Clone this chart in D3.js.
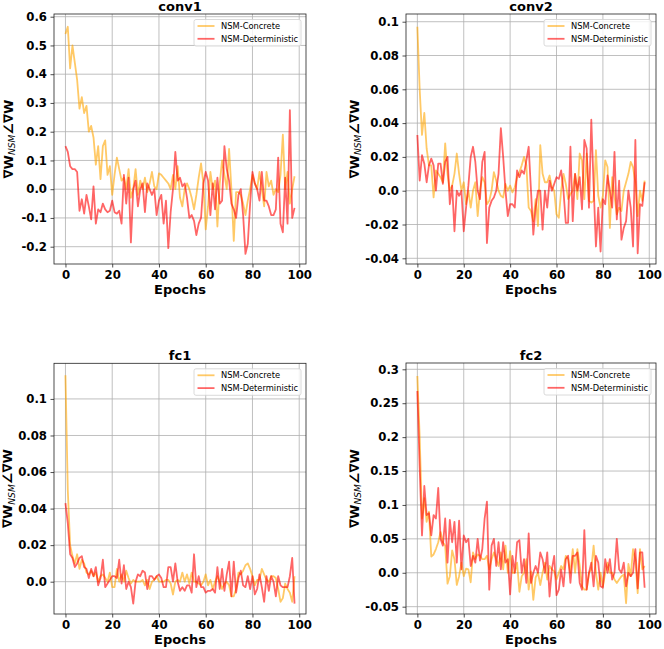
<!DOCTYPE html>
<html><head><meta charset="utf-8">
<script src="https://cdn.jsdelivr.net/npm/d3@7"></script>
<style>body{margin:0;background:#fff}svg{display:block}</style>
</head><body>
<svg id="c" width="664" height="649"></svg>
<script>
const epochs = d3.range(0, 99);
const seriesNames = ["NSM-Concrete", "NSM-Deterministic"];
const panelTitles = ["conv1", "conv2", "fc1", "fc2"];

const conv1Concrete = [0.54,0.565,0.42,0.50,0.44,0.38,0.28,0.32,0.265,0.29,0.20,0.22,0.18,0.085,0.15,0.035,0.15,0.17,0.05,0.08,-0.02,0.05,0.11,0.07,0.03,0.04,0.0,0.07,-0.03,0.0,0.07,-0.02,0.03,0.0,0.04,-0.01,0.02,0.06,0.01,0.0,0.055,0.05,0.04,0.03,0.02,0.0,0.05,0.0,0.08,-0.03,-0.06,0.0,0.02,0.0,-0.03,-0.07,-0.02,0.04,0.09,0.02,-0.14,-0.06,0.06,0.0,0.03,-0.13,0.02,0.10,0.05,0.0,0.14,0.0,-0.18,-0.01,-0.01,-0.02,-0.05,-0.09,-0.04,0.0,0.05,0.02,0.0,0.06,0.0,-0.06,0.06,0.01,0.03,-0.02,0.0,-0.01,0.05,0.19,0.0,0.06,-0.05,0.0,0.045];
const conv1Deterministic = [0.15,0.13,0.08,0.07,0.07,0.06,-0.075,-0.035,-0.085,-0.02,-0.06,-0.105,0.01,-0.12,-0.07,-0.08,-0.05,-0.07,-0.08,-0.075,-0.04,-0.08,-0.085,-0.075,-0.12,0.05,-0.05,0.04,-0.185,0.0,0.03,-0.06,0.0,0.02,-0.08,0.02,0.0,-0.02,0.0,-0.09,-0.04,-0.02,-0.12,-0.04,-0.205,-0.08,0.0,0.13,0.03,0.04,0.01,0.02,-0.03,-0.10,-0.09,-0.11,-0.16,-0.12,-0.10,0.02,0.06,0.03,-0.09,0.02,-0.07,0.04,-0.05,-0.04,0.15,0.07,0.03,-0.05,-0.07,-0.10,-0.02,0.0,-0.09,-0.225,-0.19,-0.05,0.06,0.02,0.0,-0.04,0.06,-0.04,-0.04,-0.06,-0.09,-0.09,-0.07,0.11,-0.12,-0.15,0.04,-0.12,0.275,-0.10,-0.065];

const conv2Concrete = [0.097,0.06,0.033,0.046,0.025,0.015,0.015,-0.004,0.012,0.01,0.008,0.005,0.028,0.01,0.0,0.003,0.01,0.022,0.01,0.0,0.005,-0.008,0.0,-0.01,0.0,0.005,-0.015,0.0,0.008,0.005,-0.008,-0.006,0.0,0.011,0.006,0.0,-0.003,-0.004,0.004,0.0,0.003,-0.001,0.002,0.008,0.011,0.015,0.02,0.015,-0.01,-0.012,-0.018,-0.005,-0.021,0.027,0.01,0.005,0.005,0.009,0.002,0.0,-0.014,-0.016,0.0,0.01,0.004,-0.005,-0.002,0.0,0.01,-0.005,0.022,0.018,-0.005,0.022,-0.006,-0.007,-0.006,0.024,-0.003,-0.01,-0.003,0.018,0.014,-0.022,0.008,-0.003,-0.014,-0.01,-0.012,0.0,0.005,0.01,0.017,0.014,0.005,-0.015,0.0,-0.006,0.006];
const conv2Deterministic = [0.033,0.006,0.021,0.016,0.005,0.015,0.019,0.015,0.0,0.016,0.016,0.004,0.017,0.02,-0.008,0.003,-0.024,0.0,-0.003,0.0,-0.024,-0.01,0.003,0.02,0.026,0.017,0.0,-0.005,0.017,0.023,-0.031,-0.01,-0.006,-0.004,0.0,0.01,0.037,0.02,0.0,-0.015,-0.008,-0.008,-0.01,0.012,0.008,0.012,0.01,0.018,0.026,0.0,-0.026,-0.01,0.0,0.0,-0.023,0.0,-0.01,0.006,0.0,0.004,0.008,0.007,0.012,0.0,-0.019,-0.019,0.026,-0.018,0.01,0.0,0.008,-0.011,0.03,0.025,-0.01,0.042,0.003,-0.033,-0.01,-0.036,-0.005,-0.008,0.009,0.0,-0.01,0.023,-0.017,0.006,-0.029,-0.022,-0.018,0.0,-0.01,-0.033,0.03,-0.037,-0.008,-0.009,0.005];

const fc1Concrete = [0.113,0.05,0.02,0.014,0.01,0.015,0.007,0.012,0.01,0.005,0.004,0.006,0.003,0.005,0.0,0.003,0.004,0.002,0.0,0.005,-0.003,-0.003,0.007,0.0,0.004,0.0,0.006,0.002,-0.001,0.001,0.0,0.0,0.0,0.001,-0.002,0.001,-0.004,0.0,0.001,0.003,0.0,0.0,0.0,0.001,0.001,-0.001,-0.007,0.0,0.001,0.0,0.005,0.0,0.004,-0.001,0.005,0.0,0.0,-0.001,-0.002,0.0,0.004,-0.002,0.001,-0.004,0.0,0.003,0.0,-0.004,-0.001,0.0,-0.002,-0.008,-0.008,-0.004,0.005,0.004,0.006,0.009,0.01,0.007,0.003,-0.002,0.001,0.001,0.007,0.004,0.001,0.0,0.003,0.003,0.002,-0.004,-0.011,-0.009,-0.001,-0.004,-0.006,-0.011,0.003];
const fc1Deterministic = [0.043,0.032,0.015,0.013,0.008,0.01,0.013,0.014,0.008,0.007,0.002,0.007,0.003,0.008,-0.002,0.002,0.012,-0.003,-0.001,0.001,0.003,0.003,0.002,0.012,-0.001,0.009,-0.004,0.0,-0.003,-0.012,0.0,0.004,0.003,0.006,0.005,-0.004,0.003,0.003,0.001,0.003,0.004,0.002,-0.003,-0.003,0.008,0.008,0.0,0.01,0.0,-0.005,-0.003,-0.005,-0.002,-0.002,-0.006,0.015,-0.003,0.003,-0.003,-0.003,-0.006,-0.005,-0.005,-0.004,-0.006,0.008,-0.004,0.007,-0.005,0.004,0.011,-0.008,0.011,-0.006,0.002,0.006,-0.002,-0.003,0.003,-0.004,0.003,-0.007,-0.004,0.004,-0.003,-0.011,0.003,-0.005,0.003,0.0,-0.008,0.003,-0.002,-0.003,-0.003,-0.003,0.003,0.013,-0.012];

const fc2Concrete = [0.29,0.2,0.08,0.11,0.075,0.09,0.024,0.027,0.035,0.045,0.06,0.045,0.04,-0.016,-0.005,0.033,0.02,-0.018,-0.005,0.015,-0.005,0.006,0.005,-0.014,0.03,0.02,0.027,0.025,0.02,0.02,0.025,0.005,0.02,0.03,0.02,0.01,0.03,0.005,0.04,0.0,0.032,0.0,0.0,0.015,-0.028,-0.005,0.0,0.02,-0.025,0.002,-0.04,-0.007,0.0,-0.018,0.0,0.015,-0.01,0.01,0.005,0.002,-0.01,0.0,0.01,0.005,0.025,0.02,0.0,0.035,0.0,0.035,0.01,-0.02,-0.025,-0.025,0.0,0.005,0.04,0.0,-0.025,0.0,-0.02,0.0,0.015,0.0,0.0,-0.01,-0.015,-0.01,-0.005,-0.003,-0.045,0.013,-0.005,0.035,0.02,-0.03,0.035,0.005,0.01];
const fc2Deterministic = [0.268,0.155,0.055,0.128,0.085,0.088,0.055,0.085,0.08,0.125,0.05,0.04,0.08,0.015,0.078,0.045,0.075,0.015,0.077,0.005,0.055,0.045,0.05,0.01,0.025,0.015,0.05,0.018,0.035,0.08,0.105,-0.025,0.04,0.05,0.01,0.045,0.005,0.045,0.015,0.02,-0.032,0.025,0.0,0.045,0.048,0.0,0.02,-0.015,0.058,-0.015,0.0,0.01,0.0,0.03,0.02,0.0,0.03,-0.035,0.005,0.025,-0.033,-0.025,0.005,-0.02,0.02,0.025,-0.015,0.025,0.025,0.03,-0.015,-0.025,0.063,-0.025,0.0,0.015,-0.02,0.025,0.015,-0.02,-0.022,0.02,0.0,0.02,-0.01,0.0,0.05,0.005,0.0,0.015,-0.02,0.0,-0.005,0.0,0.035,-0.023,0.03,0.03,-0.022];

const xTicks = [0, 20, 40, 60, 80, 100];
const conv1Ticks = [-0.2,-0.1,0.0,0.1,0.2,0.3,0.4,0.5,0.6];
const conv1TickLabels = ["-0.2","-0.1","0.0","0.1","0.2","0.3","0.4","0.5","0.6"];
const conv2Ticks = [-0.04,-0.02,0.0,0.02,0.04,0.06,0.08,0.1];
const conv2TickLabels = ["-0.04","-0.02","0.0","0.02","0.04","0.06","0.08","0.1"];
const fc1Ticks = [0.0,0.02,0.04,0.06,0.08,0.1];
const fc1TickLabels = ["0.0","0.02","0.04","0.06","0.08","0.1"];
const fc2Ticks = [-0.05,0.0,0.05,0.1,0.15,0.2,0.25,0.3];
const fc2TickLabels = ["-0.05","0.0","0.05","0.1","0.15","0.2","0.25","0.3"];

const conv1Domain = [-0.2602, 0.6094];
const conv2Domain = [-0.04337, 0.10456];
const fc1Domain = [-0.01768, 0.1195];
const fc2Domain = [-0.0608, 0.3093];
const xDomain = [-4.9, 102.9];

const panels = [
  {title: panelTitles[0], s: [conv1Concrete, conv1Deterministic], ticks: conv1Ticks, labels: conv1TickLabels, dom: conv1Domain, box: [54, 306, 14, 264], ylx: 8},
  {title: panelTitles[1], s: [conv2Concrete, conv2Deterministic], ticks: conv2Ticks, labels: conv2TickLabels, dom: conv2Domain, box: [406, 656, 14, 264], ylx: 354},
  {title: panelTitles[2], s: [fc1Concrete, fc1Deterministic], ticks: fc1Ticks, labels: fc1TickLabels, dom: fc1Domain, box: [54, 306, 363.3, 614], ylx: 7.5},
  {title: panelTitles[3], s: [fc2Concrete, fc2Deterministic], ticks: fc2Ticks, labels: fc2TickLabels, dom: fc2Domain, box: [406, 656, 363, 614], ylx: 354}
];
const colors = ["rgba(255,165,0,0.6)", "rgba(255,0,0,0.6)"];
const FONT = "DejaVu Sans, sans-serif";
const svg = d3.select("#c");

panels.forEach(p => {
  const [x0, x1, y0, y1] = p.box;
  const x = d3.scaleLinear().domain(xDomain).range([x0, x1]);
  const y = d3.scaleLinear().domain(p.dom).range([y1, y0]);
  const g = svg.append("g");

  // grid
  g.append("g").selectAll("line").data(xTicks).join("line")
    .attr("x1", d => x(d)).attr("x2", d => x(d)).attr("y1", y0).attr("y2", y1)
    .attr("stroke", "#b0b0b0").attr("stroke-width", 0.8);
  g.append("g").selectAll("line").data(p.ticks).join("line")
    .attr("y1", d => y(d)).attr("y2", d => y(d)).attr("x1", x0).attr("x2", x1)
    .attr("stroke", "#b0b0b0").attr("stroke-width", 0.8);

  // lines
  const line = d3.line().x((d, i) => x(epochs[i])).y(d => y(d));
  p.s.forEach((vals, k) => {
    g.append("path").datum(vals).attr("d", line)
      .attr("fill", "none").attr("stroke", colors[k]).attr("stroke-width", 1.8)
      .attr("stroke-linejoin", "round");
  });

  // axes
  const xa = g.append("g").attr("transform", `translate(0,${y1})`)
    .call(d3.axisBottom(x).tickValues(xTicks).tickSize(3.5).tickPadding(3.5).tickFormat(d3.format("d")));
  const ya = g.append("g").attr("transform", `translate(${x0},0)`)
    .call(d3.axisLeft(y).tickValues(p.ticks).tickSize(3.5).tickPadding(3.5).tickFormat((d, i) => p.labels[i]));
  [xa, ya].forEach(a => {
    a.select(".domain").remove();
    a.selectAll(".tick line").attr("stroke", "#222").attr("stroke-width", 0.8);
    a.selectAll(".tick text").attr("font-family", FONT).attr("font-weight", "bold")
      .attr("font-size", 11.7).attr("fill", "#000");
  });

  // spines
  g.append("rect").attr("x", x0).attr("y", y0).attr("width", x1 - x0).attr("height", y1 - y0)
    .attr("fill", "none").attr("stroke", "#222").attr("stroke-width", 0.8);

  // title
  g.append("text").attr("x", (x0 + x1) / 2).attr("y", y0 - 3.5).attr("text-anchor", "middle")
    .attr("font-family", FONT).attr("font-weight", "bold").attr("font-size", 13).text(p.title);
  // x label
  g.append("text").attr("x", (x0 + x1) / 2).attr("y", y1 + 30).attr("text-anchor", "middle")
    .attr("font-family", FONT).attr("font-weight", "bold").attr("font-size", 13).text("Epochs");
  // y label
  const yl = g.append("text").attr("transform", `translate(${p.ylx + 4.5},${(y0 + y1) / 2}) rotate(-90)`)
    .attr("text-anchor", "middle").attr("font-family", FONT).attr("font-weight", "bold").attr("font-size", 13);
  yl.append("tspan").text("\u2207W");
  yl.append("tspan").attr("font-style", "italic").attr("font-weight", "normal").attr("font-size", 9.1)
    .attr("dy", 2.5).text("NSM");
  yl.append("tspan").attr("dy", -2.5).text("\u2220\u2207W");

  // legend
  const lx1 = x1 - 5, lx0 = lx1 - 107, ly0 = y0 + 5.5;
  const lg = g.append("g");
  lg.append("rect").attr("x", lx0).attr("y", ly0).attr("width", lx1 - lx0).attr("height", 26.5)
    .attr("rx", 2).attr("fill", "rgba(255,255,255,0.8)").attr("stroke", "#d0d0d0").attr("stroke-width", 0.8);
  seriesNames.forEach((nm, k) => {
    const yy = ly0 + 6.5 + k * 12.8;
    lg.append("line").attr("x1", lx0 + 3.5).attr("x2", lx0 + 20.5).attr("y1", yy).attr("y2", yy)
      .attr("stroke", colors[k]).attr("stroke-width", 1.8);
    lg.append("text").attr("x", lx0 + 27).attr("y", yy + 3).attr("font-family", FONT)
      .attr("font-size", 8.3).attr("fill", "#000").text(nm);
  });
});
</script>
</body></html>
